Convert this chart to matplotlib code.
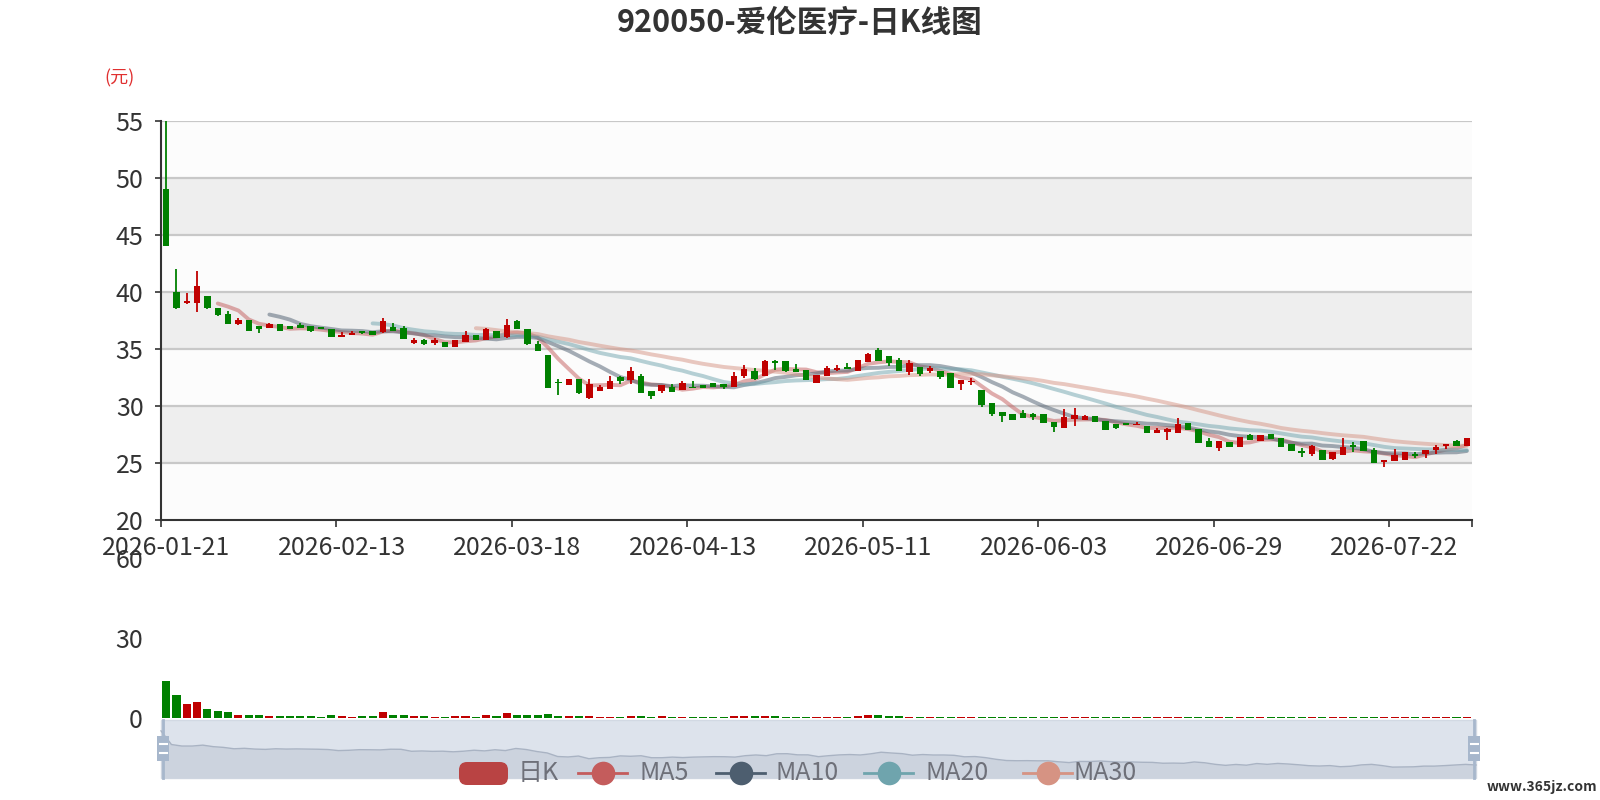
import numpy as np
import pandas as pd
import matplotlib
matplotlib.use("Agg")
import matplotlib.pyplot as plt
from matplotlib.patches import Rectangle, FancyBboxPatch

plt.rcParams['font.family'] = ['Noto Sans CJK SC', 'DejaVu Sans']

title = "920050-爱伦医疗-日K线图"
unit_label = "(元)"
legend_names = ["日K", "MA5", "MA10", "MA20", "MA30"]

# trading days (exchange holidays removed)
holidays = ['2026-02-16', '2026-02-17', '2026-02-18', '2026-02-19', '2026-02-20',
            '2026-02-23', '2026-04-06', '2026-05-01', '2026-05-04', '2026-05-05',
            '2026-06-19']
dates = pd.bdate_range('2026-01-21', '2026-07-31', freq='C', holidays=holidays)
dates = [d.strftime('%Y-%m-%d') for d in dates]

opens = [49.0, 40.0, 39.0, 39.0, 39.6, 38.6, 38.1, 37.2, 37.5, 37.0,
         36.8, 37.2, 37.0, 37.1, 37.0, 36.9, 36.7, 36.0, 36.2, 36.6,
         36.55, 36.45, 36.9, 36.85, 35.55, 35.75, 35.5, 35.6, 35.2, 35.6,
         36.25, 35.8, 36.55, 36.0, 37.4, 36.7, 35.4, 34.45, 32.1, 31.8,
         32.4, 30.65, 31.3, 31.5, 32.5, 32.25, 32.6, 31.3, 31.3, 31.7,
         31.4, 31.7, 31.85, 32.0, 31.95, 31.7, 32.65, 33.1, 32.65, 33.9,
         33.95, 33.2, 33.17, 32.0, 32.65, 33.16, 33.4, 33.1, 33.86, 34.92,
         34.4, 34.0, 32.95, 33.4, 33.08, 33.1, 32.88, 31.9, 32.08, 31.36,
         30.27, 29.46, 29.31, 29.37, 29.25, 29.27, 28.62, 28.1, 28.85, 28.8,
         29.12, 28.72, 28.4, 28.5, 28.3, 28.22, 27.66, 27.75, 27.62, 28.5,
         27.98, 26.95, 26.27, 26.86, 26.36, 27.46, 26.93, 27.54, 27.16, 26.65,
         26.05, 25.82, 26.11, 25.37, 25.67, 26.56, 26.92, 26.12, 25.1, 25.2,
         25.3, 25.76, 25.75, 26.1, 26.5, 26.9, 26.5]

closes = [44.0, 38.6, 39.2, 40.5, 38.6, 38.0, 37.2, 37.5, 36.6, 36.7,
          37.2, 36.6, 36.7, 36.8, 36.6, 36.7, 36.05, 36.2, 36.4, 36.35,
          36.2, 37.45, 36.6, 35.85, 35.75, 35.4, 35.75, 35.2, 35.75, 36.25,
          35.75, 36.7, 35.95, 37.05, 36.7, 35.4, 34.85, 31.6, 32.0, 32.35,
          31.1, 31.95, 31.7, 32.15, 32.15, 33.1, 31.15, 30.85, 31.85, 31.25,
          32.0, 31.6, 31.6, 31.65, 31.7, 32.65, 33.2, 32.35, 33.9, 33.75,
          33.05, 32.97, 32.27, 32.75, 33.3, 33.36, 33.22, 34.02, 34.54, 33.95,
          33.78, 33.02, 33.78, 32.8, 33.3, 32.52, 31.58, 32.25, 32.22, 30.08,
          29.3, 29.12, 28.75, 28.97, 29.02, 28.52, 28.15, 29.05, 29.22, 29.1,
          28.6, 27.86, 28.08, 28.3, 28.45, 27.65, 27.88, 28.0, 28.43, 27.88,
          26.72, 26.36, 26.92, 26.42, 27.3, 27.02, 27.46, 27.07, 26.36, 26.06,
          25.9, 26.47, 25.22, 25.96, 26.41, 26.42, 26.06, 24.98, 25.25, 25.7,
          26.0, 25.6, 26.15, 26.4, 26.7, 26.5, 27.2]

lows = [44.0, 38.5, 38.9, 38.2, 38.5, 37.9, 37.2, 37.1, 36.6, 36.4,
        36.8, 36.6, 36.7, 36.8, 36.5, 36.7, 36.0, 36.0, 36.2, 36.3,
        36.2, 36.4, 36.6, 35.85, 35.4, 35.35, 35.35, 35.2, 35.2, 35.6,
        35.75, 35.8, 35.95, 35.95, 36.7, 35.3, 34.85, 31.55, 31.0, 31.8,
        31.05, 30.6, 31.3, 31.5, 31.9, 31.95, 31.15, 30.6, 31.15, 31.25,
        31.4, 31.6, 31.6, 31.65, 31.5, 31.65, 32.45, 32.3, 32.65, 33.15,
        33.0, 32.95, 32.25, 32.0, 32.65, 33.1, 33.2, 33.1, 33.86, 33.95,
        33.5, 33.02, 32.75, 32.6, 32.9, 32.4, 31.58, 31.4, 31.8, 29.94,
        29.1, 28.58, 28.75, 28.97, 28.78, 28.52, 27.75, 28.1, 28.22, 28.8,
        28.6, 27.86, 27.95, 28.3, 28.3, 27.65, 27.66, 27.05, 27.62, 27.88,
        26.72, 26.36, 26.05, 26.42, 26.36, 27.02, 26.93, 27.07, 26.36, 26.06,
        25.52, 25.6, 25.22, 25.22, 25.67, 25.96, 26.06, 24.98, 24.65, 25.2,
        25.3, 25.4, 25.45, 25.75, 26.25, 26.5, 26.5]

highs = [55.0, 42.0, 39.9, 41.8, 39.6, 38.6, 38.3, 37.7, 37.5, 37.0,
         37.3, 37.2, 37.0, 37.3, 37.0, 36.9, 36.7, 36.5, 36.6, 36.6,
         36.55, 37.7, 37.3, 37.0, 35.95, 35.9, 35.95, 35.6, 35.75, 36.55,
         36.25, 36.85, 36.55, 37.65, 37.5, 36.75, 35.7, 34.45, 32.4, 32.35,
         32.4, 32.4, 31.85, 32.6, 32.65, 33.45, 32.8, 31.3, 31.85, 31.9,
         32.15, 32.15, 31.85, 32.0, 31.95, 33.0, 33.6, 33.3, 34.0, 34.0,
         33.95, 33.65, 33.17, 32.75, 33.5, 33.55, 33.8, 34.02, 34.65, 35.05,
         34.4, 34.2, 34.0, 33.4, 33.5, 33.1, 32.88, 32.25, 32.45, 31.36,
         30.27, 29.46, 29.31, 29.6, 29.4, 29.27, 28.62, 29.7, 29.85, 29.2,
         29.12, 28.72, 28.4, 28.5, 28.55, 28.22, 28.05, 28.05, 28.98, 28.5,
         27.98, 27.2, 26.92, 26.86, 27.3, 27.55, 27.46, 27.54, 27.16, 26.65,
         26.35, 26.56, 26.11, 25.96, 27.16, 26.8, 26.92, 26.35, 25.25, 26.2,
         26.0, 25.95, 26.15, 26.6, 26.7, 27.0, 27.2]

volumes = [14.0, 8.6, 5.3, 5.9, 3.3, 2.7, 2.2, 1.2, 1.1, 1.0,
           0.85, 0.7, 0.6, 0.7, 0.6, 0.5, 1.0, 0.7, 0.5, 0.6,
           0.7, 2.3, 1.2, 1.1, 0.6, 0.6, 0.5, 0.5, 0.7, 0.85,
           0.5, 1.1, 0.6, 1.7, 1.1, 1.1, 1.0, 1.5, 0.85, 0.6,
           0.6, 0.6, 0.5, 0.5, 0.5, 0.85, 0.7, 0.5, 0.7, 0.5,
           0.5, 0.4, 0.4, 0.4, 0.4, 0.7, 0.7, 0.6, 0.85, 0.6,
           0.5, 0.4, 0.5, 0.5, 0.5, 0.4, 0.4, 0.9, 1.0, 1.0,
           0.6, 0.6, 0.5, 0.5, 0.4, 0.4, 0.5, 0.5, 0.4, 0.5,
           0.4, 0.3, 0.4, 0.3, 0.3, 0.3, 0.3, 0.4, 0.4, 0.3,
           0.3, 0.3, 0.3, 0.2, 0.2, 0.3, 0.2, 0.3, 0.3, 0.3,
           0.3, 0.2, 0.2, 0.2, 0.3, 0.2, 0.2, 0.2, 0.2, 0.3,
           0.2, 0.3, 0.3, 0.2, 0.3, 0.2, 0.2, 0.3, 0.2, 0.2,
           0.2, 0.2, 0.2, 0.2, 0.2, 0.2, 0.2]

ma_days = [5, 10, 20, 30]
ma_colors = ['#c45c5c', '#4d5e6f', '#6fa4ad', '#d69383']
up_color = '#c00000'
down_color = '#008000'

W, H = 1600, 800


def px(x0, y0, x1, y1):
    # pixel box (top-left origin) -> figure fraction
    return [x0 / W, 1 - y1 / H, (x1 - x0) / W, (y1 - y0) / H]


fig = plt.figure(figsize=(16, 8), dpi=100)
fig.patch.set_facecolor('white')

n = len(dates)
xs = np.arange(n)
o = np.array(opens)
c = np.array(closes)
lo = np.array(lows)
hi = np.array(highs)
up = c >= o
cols = np.where(up, up_color, down_color)

# ---- price panel ----
ax = fig.add_axes(px(161, 120.7, 1472, 520))
ax.set_facecolor('#fcfcfc')
ax.set_xlim(-0.5, n - 0.5)
ax.set_ylim(20, 55)
for b in [25, 35, 45]:
    ax.axhspan(b, b + 5, color='#eeeeee', zorder=0, lw=0)
for g in [25, 30, 35, 40, 45, 50, 55]:
    ax.axhline(g, color='#c8c8c8', lw=1.6, zorder=1)

ax.vlines(xs, lo, hi, colors=cols, lw=1.3, zorder=3)
body = np.maximum(np.abs(c - o), 0.06)
ax.bar(xs, body, bottom=np.minimum(o, c), width=0.62, color=cols, lw=0, zorder=4)

close_s = pd.Series(closes)
for d, col in zip(ma_days, ma_colors):
    ma = close_s.rolling(d).mean()
    ma[:d] = np.nan
    ax.plot(xs, ma, color=col, lw=2.8, alpha=0.5, zorder=2, solid_capstyle='round')

for s in ['top', 'right']:
    ax.spines[s].set_visible(False)
for s in ['left', 'bottom']:
    ax.spines[s].set_color('#333333')
    ax.spines[s].set_linewidth(1.5)
ax.set_yticks([20, 25, 30, 35, 40, 45, 50, 55])
ax.tick_params(axis='y', length=4.5, width=1.2, color='#333333', pad=8,
               labelsize=18, labelcolor='#333333')

label_idx = list(range(0, n, 17))
ax.set_xticks(label_idx)
ax.set_xticklabels([dates[i] for i in label_idx])
ax.set_xticks([i - 0.5 for i in label_idx] + [n - 0.5], minor=True)
ax.tick_params(axis='x', which='major', length=0, pad=11, labelsize=18,
               labelcolor='#333333')
ax.tick_params(axis='x', which='minor', length=5, width=1.2, color='#333333')

# ---- volume panel ----
vax = fig.add_axes(px(161, 558, 1472, 718))
vax.set_facecolor('none')
vax.set_xlim(-0.5, n - 0.5)
vax.set_ylim(0, 60)
vax.bar(xs, volumes, width=0.78, color=cols, lw=0)
for s in vax.spines.values():
    s.set_visible(False)
vax.set_xticks([])
vax.set_yticks([0, 30, 60])
vax.tick_params(axis='y', length=0, pad=13, labelsize=18, labelcolor='#333333')

# ---- overlay: title, unit, slider, legend ----
ov = fig.add_axes([0, 0, 1, 1], zorder=5)
ov.set_xlim(0, W)
ov.set_ylim(H, 0)
ov.axis('off')
ov.patch.set_alpha(0)

ov.text(800, 23, title, ha='center', va='center', fontsize=22,
        fontweight='bold', color='#333333')
ov.text(120, 78, unit_label, ha='center', va='center', fontsize=13,
        color='#e03030')

# data zoom slider
sx0, sx1, sy0, sy1 = 161, 1476, 720, 778
ov.add_patch(Rectangle((sx0, sy0), sx1 - sx0, sy1 - sy0, facecolor='#dde3ec',
                       edgecolor='#d2d9e3', lw=1, zorder=1))
ext = (max(opens) - min(opens)) * 0.3
vmin, vmax = min(opens) - ext, max(opens) + ext
shx = sx0 + xs * (sx1 - sx0) / (n - 1)
shy = sy1 - (o - vmin) / (vmax - vmin) * (sy1 - sy0)
ov.fill_between(shx, shy, sy1, color='#ccd3de', lw=0, zorder=2)
ov.plot(shx, shy, color='#a9b3c3', lw=1, zorder=3)
for hx in [sx0 + 2, sx1 - 2]:
    ov.plot([hx, hx], [sy0, sy1], color='#a7b7cc', lw=2, zorder=4)
    ov.add_patch(Rectangle((hx - 6, 736), 12, 25, facecolor='#a7b7cc',
                           edgecolor='none', zorder=5))
    for ly in [744, 753]:
        ov.plot([hx - 3.5, hx + 3.5], [ly, ly], color='white', lw=1.5, zorder=6)

# legend
ly = 773
ov.add_patch(FancyBboxPatch((459, 762), 49, 23, boxstyle='round,pad=0,rounding_size=8',
                            facecolor='#b94343', edgecolor='none', zorder=7))
ov.text(518, ly, legend_names[0], ha='left', va='center', fontsize=18,
        color='#6e7079', zorder=8)
icon_x = [578, 716, 864, 1023]
text_x = [640, 775, 925, 1074]
for name, col, ix, tx in zip(legend_names[1:], ma_colors, icon_x, text_x):
    ov.plot([ix, ix + 49], [ly, ly], color=col, lw=2, zorder=7)
    ov.plot([ix + 24.5], [ly], marker='o', markersize=17, color=col,
            markeredgewidth=0, zorder=8)
    ov.text(tx, ly, name, ha='left', va='center', fontsize=18,
            color='#6e7079', zorder=8)

ov.text(1597, 787, "www.365jz.com", ha='right', va='center', fontsize=10,
        fontweight='bold', color='#333333',
        bbox=dict(facecolor='white', edgecolor='none', pad=1))

fig.savefig('out.png', dpi=100)
